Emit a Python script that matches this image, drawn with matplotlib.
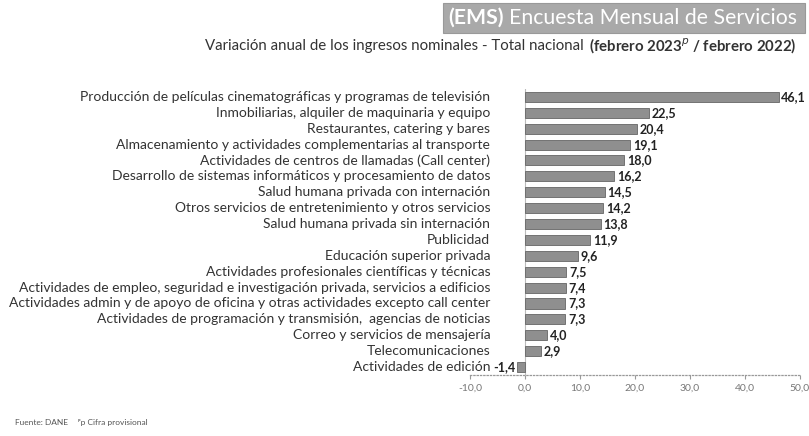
import numpy as np
import matplotlib.pyplot as plt
from matplotlib.patches import Rectangle

plt.rcParams['font.family'] = ['Lato', 'DejaVu Sans']

# Datos
categorias = [
    'Producción de películas cinematográficas y programas de televisión',
    'Inmobiliarias, alquiler de maquinaria y equipo',
    'Restaurantes, catering y bares',
    'Almacenamiento y actividades complementarias al transporte',
    'Actividades de centros de llamadas (Call center)',
    'Desarrollo de sistemas informáticos y procesamiento de datos',
    'Salud humana privada con internación',
    'Otros servicios de entretenimiento y otros servicios',
    'Salud humana privada sin internación',
    'Publicidad',
    'Educación superior privada',
    'Actividades profesionales científicas y técnicas',
    'Actividades de empleo, seguridad e investigación privada, servicios a edificios',
    'Actividades admin y de apoyo de oficina y otras actividades excepto call center',
    'Actividades de programación y transmisión,  agencias de noticias',
    'Correo y servicios de mensajería',
    'Telecomunicaciones',
    'Actividades de edición',
]
valores = [46.1, 22.5, 20.4, 19.1, 18.0, 16.2, 14.5, 14.2, 13.8, 11.9,
           9.6, 7.5, 7.4, 7.3, 7.3, 4.0, 2.9, -1.4]
ticks_x = [-10, 0, 10, 20, 30, 40, 50]

W, H = 809, 436
fig = plt.figure(figsize=(W / 100, H / 100), dpi=100)
ax = fig.add_axes([470 / W, 0.1399, 330 / W, 0.656])
rend = fig.canvas.get_renderer()

y = np.arange(len(valores))
ax.barh(y, valores, height=0.63, color='#8f8f8f', edgecolor='#666666', linewidth=0.6)
ax.set_ylim(len(valores) - 0.5, -0.5)
ax.set_xlim(-10, 50)
ax.axvline(0, color='#bbbbbb', lw=0.8, zorder=0)

# etiquetas de valores
for i, v in enumerate(valores):
    txt = f'{v:.1f}'.replace('.', ',')
    if v >= 0:
        ax.text(v + 0.5, i, txt, va='center', ha='left', fontsize=9, fontweight='bold', color='#222222')
    else:
        ax.text(v - 0.4, i, txt, va='center', ha='right', fontsize=9, fontweight='bold', color='#222222')

# categorias alineadas a la derecha
for i, c in enumerate(categorias):
    ax.text(-6.3, i, c, va='center', ha='right', fontsize=10, color='#333333')

ax.set_yticks([])
ax.set_xticks(ticks_x)
ax.set_xticklabels([f'{t:.1f}'.replace('.', ',') for t in ticks_x], fontsize=7.5, color='#777777')
ax.tick_params(axis='x', length=3, color='#999999', pad=3)
for s in ['top', 'right', 'left']:
    ax.spines[s].set_visible(False)
ax.spines['bottom'].set_color('#999999')
ax.spines['bottom'].set_linestyle(':')
ax.spines['bottom'].set_linewidth(0.9)

# banner
fig.patches.append(Rectangle((443 / W, 1 - 33 / H), 362 / W, 30 / H, transform=fig.transFigure,
                             facecolor='#a9a9a9', edgecolor='#999999', lw=0.8))
t1 = fig.text(797 / W, 1 - 18 / H, 'Encuesta Mensual de Servicios', fontsize=15.3, color='white',
              ha='right', va='center')
bb = t1.get_window_extent(rend)
fig.text(bb.x0 / W - 0.006, 1 - 18 / H, '(EMS)', fontsize=15.3, color='white', fontweight='bold',
         ha='right', va='center')

# subtitulo
t2 = fig.text(797 / W, 1 - 46 / H, '(febrero 2023$^{p}$ / febrero 2022)', fontsize=10.8, fontweight='bold',
              color='#333333', ha='right', va='center')
bb = t2.get_window_extent(rend)
fig.text(bb.x0 / W - 0.007, 1 - 46 / H, 'Variación anual de los ingresos nominales - Total nacional',
         fontsize=10.8, color='#333333', ha='right', va='center')

# nota
fig.text(15 / W, 1 - 422 / H, 'Fuente: DANE', fontsize=6, color='#555555', ha='left', va='center')
fig.text(78 / W, 1 - 422 / H, 'ᵖp Cifra provisional', fontsize=6, color='#555555', ha='left', va='center')

fig.savefig('out.png', dpi=100)
